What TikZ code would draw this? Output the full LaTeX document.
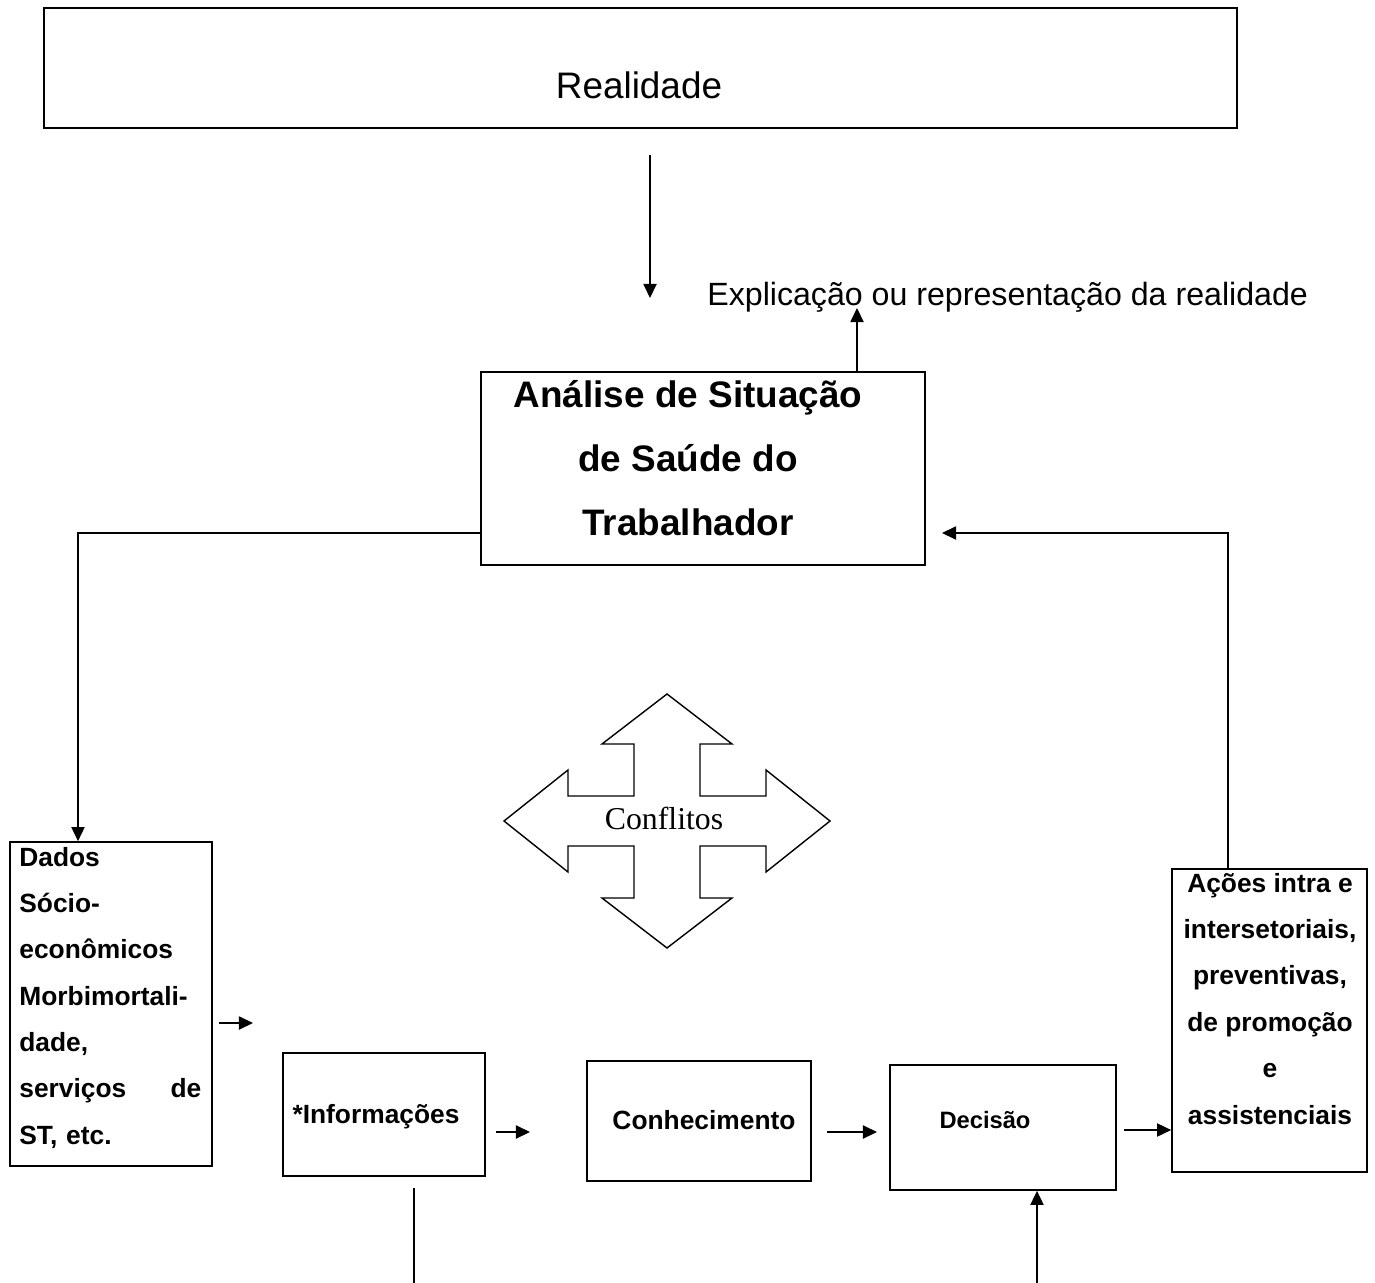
\documentclass[tikz,border=0pt]{standalone}
\usepackage{fontspec}
\setmainfont{Liberation Sans}
\newfontfamily\serifface{Liberation Serif}
\usetikzlibrary{arrows.meta, positioning, calc}

\begin{document}
\begin{tikzpicture}[x=0.02cm, y=-0.02cm,
  box/.style={draw, line width=1pt, inner sep=0pt},
  boxtxt/.style={font=\bfseries\fontsize{15}{26.4}\selectfont, inner sep=0pt, anchor=base},
  flow/.style={line width=0.8pt, -{Triangle[length=8pt, width=7.5pt]}},
  plain/.style={line width=0.8pt}]

  \useasboundingbox (0,0) rectangle (1375,1283);

  % top: reality and its representation
  \node[box, minimum width=23.86cm, minimum height=2.4cm] (real) at (640.5,68) {};
  \node[font=\fontsize{21}{25}\selectfont, inner sep=0pt, anchor=base] (realtxt) at (639,99) {Realidade};
  \node[font=\fontsize{18.3}{22}\selectfont, inner sep=0pt, anchor=base west] (expl) at (707,306)
      {Explicação ou representação da realidade};

  \node[box, minimum width=8.88cm, minimum height=3.86cm] (asst) at (703,468.5) {};
  \node[font=\bfseries\fontsize{21}{36.3}\selectfont, inner sep=0pt, anchor=base, align=center]
      (assttxt) at (688,535) {Análise de Situação\\de Saúde do\\Trabalhador};

  % side boxes
  \node[box, minimum width=4.04cm, minimum height=6.48cm] (dados) at (111,1004) {};
  \node[boxtxt, anchor=base west, text width=3.64cm, align=left] (dadostxt) at (19,866)
      {Dados\\Sócio-\\econômicos\\Morbimortali-\\dade,\\serviços\hfill de\\ST, etc.};

  \node[box, minimum width=3.9cm, minimum height=6.06cm] (acoes) at (1269.5,1020.5) {};
  \node[boxtxt, align=center] (acoestxt) at (1270,1124)
      {Ações intra e\\intersetoriais,\\preventivas,\\de promoção\\e\\assistenciais};

  % bottom row
  \node[box, minimum width=4.04cm, minimum height=2.46cm] (info) at (384,1114.5) {};
  \node[boxtxt] (infotxt) at (376,1123) {*Informações};

  \node[box, minimum width=4.48cm, minimum height=2.4cm] (conh) at (699,1121) {};
  \node[boxtxt] (conhtxt) at (704,1129) {Conhecimento};

  \node[box, minimum width=4.52cm, minimum height=2.5cm] (deci) at (1003,1127.5) {};
  \node[boxtxt, font=\bfseries\fontsize{13.5}{16}\selectfont] (decitxt) at (985,1128) {Decisão};

  % conflicts cross
  \draw[line width=0.8pt, shift={(667,821)}]
    (0,-127) -- (65,-77) -- (33,-77) -- (33,-25) -- (99,-25) -- (99,-51) -- (163,0)
    -- (99,51) -- (99,25) -- (33,25) -- (33,77) -- (65,77) -- (0,127) -- (-65,77)
    -- (-33,77) -- (-33,25) -- (-99,25) -- (-99,51) -- (-163,0) -- (-99,-51)
    -- (-99,-25) -- (-33,-25) -- (-33,-77) -- (-65,-77) -- cycle;
  \node[font=\serifface\fontsize{18.1}{22}\selectfont, inner sep=0pt, anchor=base] (conf) at (664,829) {Conflitos};

  % connectors
  \coordinate (realout) at (650,155);
  \coordinate (realin) at (650,298);
  \draw[flow] (realout) -- (realin);

  \coordinate (explin) at (857,308);
  \draw[flow] (explin |- asst.north) -- (explin);

  \coordinate (bendl) at (78,533);
  \draw[flow] (asst.west |- bendl) -- (bendl) -- (bendl |- dados.north);

  \coordinate (bendr) at (1228,533);
  \coordinate (backin) at (942,533);
  \draw[flow] (bendr |- acoes.north) -- (bendr) -- (backin);

  \coordinate (dout) at (219,1023);
  \coordinate (dend) at (253,1023);
  \draw[flow] (dout) -- (dend);

  \coordinate (iout) at (496,1132);
  \coordinate (iend) at (530,1132);
  \draw[flow] (iout) -- (iend);

  \coordinate (cout) at (827,1132);
  \coordinate (cend) at (877,1132);
  \draw[flow] (cout) -- (cend);

  \coordinate (deout) at (1124,1130);
  \draw[flow] (deout) -- (deout -| acoes.west);

  \coordinate (idown) at (414,1188);
  \coordinate (iedge) at (414,1283);
  \draw[plain] (idown) -- (iedge);

  \coordinate (dup) at (1037,1283);
  \draw[flow] (dup) -- (dup |- deci.south);
\end{tikzpicture}
\end{document}
